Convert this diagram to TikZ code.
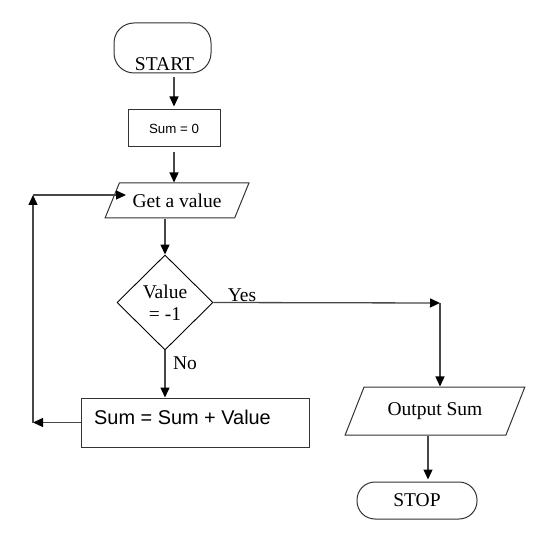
\documentclass[tikz,border=0pt]{standalone}
\usepackage{fontspec}
\setmainfont{Liberation Serif}
\setsansfont{Liberation Sans}
\usetikzlibrary{arrows.meta,shapes.geometric,calc}
\begin{document}
\begin{tikzpicture}[x=1pt,y=-1pt,
  serif/.style={font=\fontsize{19.5}{22}\selectfont},
  sansbig/.style={font=\sffamily\fontsize{19.9}{24}\selectfont},
  sanssmall/.style={font=\sffamily\fontsize{13.3}{16}\selectfont},
  shapeline/.style={draw=black!80, line width=1pt},
  conn/.style={draw=black!72, line width=1.3pt, -{Triangle[length=10pt,width=9pt,color=black]}},
  para/.style={shapeline, trapezium, trapezium stretches=true, inner sep=0pt},
  term/.style={shapeline, rectangle, inner sep=0pt},
  procbox/.style={shapeline, rectangle, inner sep=0pt},
]
\useasboundingbox (0,0) rectangle (546,534);

% START terminator
\node[term, rounded corners=20pt, minimum width=97pt, minimum height=50pt] (start) at (162.5,48) {};
\node[serif, inner sep=0pt, anchor=base] (starttext) at (164.5,71) {START};

% Sum = 0
\node[procbox, sanssmall, minimum width=92pt, minimum height=37pt] (sum0) at (174,128.5) {Sum = 0};

% Get a value
\node[para, serif, trapezium left angle=51.3, trapezium right angle=128.7,
      minimum width=144pt, minimum height=35pt] (get) at (177,200.5) {Get a value};

% Decision
\node[diamond, draw=black, line width=0.9pt, aspect=1, inner sep=0pt,
      minimum width=96pt, minimum height=95pt, serif, align=center] (dec) at (165,302.5) {Value\\= -1};

% Sum = Sum + Value
\node[procbox, minimum width=228pt, minimum height=49pt] (sumv) at (195,422.5) {};
\node[sansbig, inner sep=0pt, anchor=west] (sumvtext) at (94,417) {Sum = Sum + Value};

% Output Sum
\node[para, serif, trapezium left angle=53.5, trapezium right angle=126.5,
      minimum width=180pt, minimum height=48pt] (out) at (435,411) {Output Sum};

% STOP
\node[term, rounded corners=18pt, minimum width=120pt, minimum height=37pt, serif] (stop) at (417,500.5) {STOP};

% helper coordinates
\coordinate (L1) at (33,422.5);
\coordinate (L2) at (33,195);
\coordinate (gin) at (126,195);
\coordinate (Y1) at (440,303);
\coordinate (sx) at ($(stop.north)+(11,0)$);

% connectors
\draw[conn, shorten <=4pt, shorten >=3pt] (start.south -| sum0.north) -- (sum0.north);
\draw[conn, shorten <=5pt] (sum0.south) -- (sum0.south |- get.north);
\draw[conn] (get.south -| dec.north) -- (dec.north);
\draw[conn] (dec.south) -- (dec.south |- sumv.north);
\draw[conn] (sumv.west) -- (L1);
\draw[conn] (L1) -- (L2);
\draw[conn] (L2) -- (gin);
\draw[conn] (dec.east) -- (Y1);
\draw[conn] (Y1) -- (Y1 |- out.north);
\draw[conn, shorten >=2pt] (sx |- out.south) -- (sx);

% labels
\node[serif, inner sep=0pt] (yes) at (242,295) {Yes};
\node[serif, inner sep=0pt] (no) at (185,363) {No};
\end{tikzpicture}
\end{document}
